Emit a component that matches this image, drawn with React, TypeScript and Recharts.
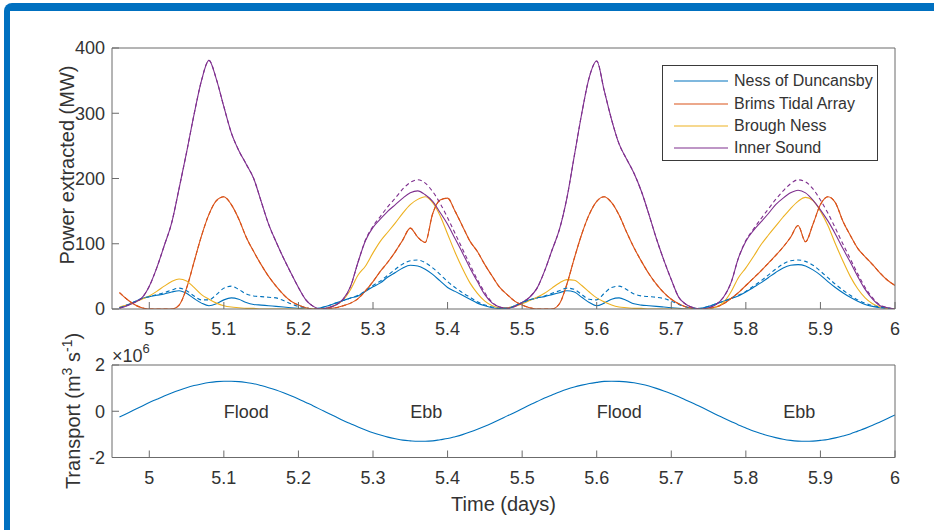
import React from "react";
import { LineChart, Line, XAxis, YAxis, Legend, ReferenceDot } from "recharts";

// sample grid: 4.96 .. 6.00 days, every 0.01
const times = Array.from({ length: 105 }, (_, i) => Math.round((4.96 + i * 0.01) * 100) / 100);

// power extracted (MW)
const nessOfDuncansby = [
  2, 6, 11, 16, 19, 21, 23, 26, 28, 24,
  16, 9, 5, 8, 14, 17, 15, 10, 7, 6,
  5, 4, 3, 2, 1, 0, 0, 2, 5, 9,
  13, 17, 20, 27, 34, 40, 49, 56, 63, 67,
  66, 61, 53, 43, 33, 27, 21, 15, 9, 5,
  2, 1, 1, 5, 10, 14, 17, 19, 22, 25,
  28, 26, 18, 10, 5, 9, 15, 17, 13, 8,
  6, 5, 4, 3, 2, 1, 0, 0, 1, 4,
  8, 12, 16, 20, 26, 33, 40, 48, 56, 63,
  67, 68, 66, 60, 52, 42, 33, 25, 18, 12,
  7, 4, 2, 1, 0,
];
const nessOfDuncansbyAlt = [
  2, 6, 11, 16, 19, 22, 25, 29, 32, 28,
  20, 14, 14, 22, 32, 35, 30, 23, 20, 19,
  18, 17, 13, 8, 4, 2, 0, 2, 5, 9,
  13, 17, 21, 28, 36, 43, 52, 61, 69, 74,
  75, 71, 63, 53, 42, 33, 25, 18, 11, 6,
  3, 1, 1, 5, 10, 14, 17, 20, 24, 28,
  32, 30, 22, 15, 14, 24, 33, 35, 30, 23,
  20, 19, 18, 16, 12, 7, 3, 1, 1, 4,
  8, 12, 16, 21, 27, 35, 43, 52, 61, 69,
  74, 75, 73, 67, 58, 48, 38, 29, 21, 14,
  9, 5, 3, 1, 0,
];
const brimsTidalArray = [
  25, 15, 7, 2, 0, 0, 0, 0, 6, 32,
  72, 112, 145, 166, 172, 160, 138, 110, 88, 68,
  50, 35, 22, 12, 6, 2, 0, 0, 1, 2,
  5, 9, 16, 28, 42, 58, 72, 88, 106, 124,
  110, 102, 146, 167, 170, 150, 127, 104, 88, 68,
  50, 33, 22, 12, 6, 2, 0, 0, 0, 8,
  38, 78, 115, 145, 165, 172, 163, 144, 118, 94,
  73, 54, 38, 25, 15, 8, 3, 1, 0, 1,
  3, 8, 16, 25, 36, 47, 58, 70, 82, 95,
  110, 128, 103, 130, 160, 172, 163, 135, 113, 93,
  80, 68, 55, 44, 36,
];
const broughNess = [
  3, 6, 10, 15, 20, 27, 35, 42, 46, 43,
  33, 22, 15, 9, 5, 3, 2, 1, 1, 0,
  0, 0, 0, 0, 0, 0, 0, 0, 2, 6,
  14, 30, 52, 66, 86, 104, 118, 132, 147, 160,
  168, 172, 163, 143, 115, 87, 62, 40, 24, 12,
  5, 2, 2, 4, 8, 13, 18, 24, 32, 40,
  45, 44, 36, 26, 17, 11, 6, 3, 2, 1,
  1, 0, 0, 0, 0, 0, 0, 0, 0, 1,
  3, 10, 26, 48, 63, 80, 98, 113, 127, 141,
  154, 165, 171, 166, 150, 128, 100, 74, 50, 31,
  17, 8, 3, 1, 0,
];
const innerSound = [
  1, 5, 10, 17, 35, 63, 97, 132, 185, 240,
  298, 350, 381, 352, 310, 270, 243, 222, 200, 165,
  130, 103, 78, 55, 33, 14, 4, 0, 2, 6,
  15, 35, 72, 105, 125, 138, 150, 160, 170, 178,
  181, 175, 165, 148, 130, 108, 86, 63, 42, 22,
  9, 3, 1, 4, 10, 18, 32, 58, 90, 122,
  170, 235, 300, 355, 380, 335, 290, 253, 230, 208,
  180, 145, 108, 75, 45, 18, 7, 2, 0, 2,
  7, 18, 40, 78, 104, 120, 133, 146, 160, 170,
  178, 182, 178, 167, 152, 135, 115, 93, 72, 50,
  30, 15, 5, 2, 0,
];
const innerSoundAlt = [
  1, 5, 10, 17, 35, 63, 97, 132, 185, 240,
  298, 350, 381, 352, 310, 270, 243, 222, 200, 165,
  130, 103, 78, 55, 33, 14, 4, 0, 2, 6,
  15, 35, 72, 106, 127, 142, 157, 170, 184, 194,
  198, 193, 180, 162, 140, 116, 92, 68, 45, 25,
  10, 3, 1, 4, 10, 18, 32, 58, 90, 122,
  170, 235, 300, 355, 380, 335, 290, 253, 230, 208,
  180, 145, 108, 75, 45, 18, 7, 2, 0, 2,
  7, 18, 40, 78, 105, 122, 138, 153, 168, 181,
  192, 198, 195, 184, 167, 147, 124, 100, 77, 54,
  33, 17, 6, 2, 0,
];

// transport (x10^6 m^3 s^-1)
const transport = [
  -0.25, -0.1, 0.06, 0.22, 0.38, 0.52, 0.66, 0.79, 0.91, 1.02,
  1.11, 1.18, 1.24, 1.28, 1.3, 1.3, 1.28, 1.24, 1.19, 1.11,
  1.02, 0.92, 0.8, 0.67, 0.53, 0.38, 0.23, 0.07, -0.09, -0.24,
  -0.4, -0.54, -0.68, -0.81, -0.93, -1.03, -1.12, -1.19, -1.25, -1.28,
  -1.3, -1.3, -1.28, -1.23, -1.18, -1.1, -1.01, -0.9, -0.78, -0.65,
  -0.51, -0.36, -0.2, -0.05, 0.11, 0.27, 0.42, 0.57, 0.7, 0.83,
  0.95, 1.05, 1.13, 1.2, 1.25, 1.29, 1.3, 1.29, 1.27, 1.23,
  1.17, 1.09, 0.99, 0.88, 0.76, 0.63, 0.48, 0.33, 0.18, 0.02,
  -0.14, -0.29, -0.44, -0.59, -0.72, -0.85, -0.96, -1.06, -1.14, -1.21,
  -1.26, -1.29, -1.3, -1.29, -1.26, -1.22, -1.15, -1.07, -0.98, -0.86,
  -0.74, -0.61, -0.46, -0.31, -0.16,
];

const timeTicks = [5, 5.1, 5.2, 5.3, 5.4, 5.5, 5.6, 5.7, 5.8, 5.9, 6];
const powerTicks = [0, 100, 200, 300, 400];
const transportTicks = [-2, 0, 2];
const phaseLabels = [
  { t: 5.1, text: "Flood" },
  { t: 5.35, text: "Ebb" },
  { t: 5.6, text: "Flood" },
  { t: 5.85, text: "Ebb" },
];

const powerData = times.map((t, i) => ({
  t,
  ness: nessOfDuncansby[i],
  nessAlt: nessOfDuncansbyAlt[i],
  brims: brimsTidalArray[i],
  brough: broughNess[i],
  inner: innerSound[i],
  innerAlt: innerSoundAlt[i],
}));
const transportData = times.map((t, i) => ({ t, q: transport[i] }));

const FONT = '"Liberation Sans", Arial, Helvetica, sans-serif';
const AXIS = "#6b6b6b";
const TEXT = "#333333";
const C_BLUE = "#0072BD";
const C_ORANGE = "#D95319";
const C_YELLOW = "#EDB120";
const C_PURPLE = "#7E2F8E";
const LW = 1.1;

const legendItems = [
  { name: "Ness of Duncansby", color: C_BLUE },
  { name: "Brims Tidal Array", color: C_ORANGE },
  { name: "Brough Ness", color: C_YELLOW },
  { name: "Inner Sound", color: C_PURPLE },
];

const tickStyle = { fill: TEXT, fontSize: 18, fontFamily: FONT };

function PowerLegend() {
  return (
    <div
      style={{
        width: 216,
        height: 96,
        boxSizing: "border-box",
        border: "1px solid #3a3a3a",
        background: "#fff",
        padding: "4px 0 0 11px",
        fontFamily: FONT,
      }}
    >
      {legendItems.map((item) => (
        <div key={item.name} style={{ display: "flex", alignItems: "center", height: 22.4 }}>
          <svg width={54} height={10}>
            <line x1={0} y1={5} x2={54} y2={5} stroke={item.color} strokeWidth={LW} />
          </svg>
          <span style={{ marginLeft: 6, fontSize: 16, color: TEXT, whiteSpace: "nowrap" }}>{item.name}</span>
        </div>
      ))}
    </div>
  );
}

export default function App() {
  const line = (key: string, color: string, dashed = false) => (
    <Line
      key={key + (dashed ? "-d" : "")}
      xAxisId="b"
      yAxisId="l"
      type="monotone"
      dataKey={key}
      stroke={color}
      strokeWidth={LW}
      strokeDasharray={dashed ? "4 3" : undefined}
      dot={false}
      legendType="none"
      isAnimationActive={false}
    />
  );

  return (
    <div style={{ position: "absolute", left: 0, top: 0, width: 934, height: 530, background: "#fff", overflow: "hidden" }}>
      <div
        style={{
          position: "absolute",
          left: 4,
          top: 3,
          width: 940,
          height: 540,
          borderTop: "8px solid #0070C0",
          borderLeft: "6px solid #0070C0",
          borderTopLeftRadius: 8,
        }}
      />

      <div style={{ position: "absolute", left: 0, top: 0 }}>
        <LineChart width={934} height={340} data={powerData} margin={{ top: 47, right: 38, bottom: 6, left: 52 }}>
          <XAxis
            xAxisId="b"
            dataKey="t"
            type="number"
            domain={[4.95, 6]}
            ticks={timeTicks}
            interval={0}
            allowDataOverflow
            height={25}
            stroke={AXIS}
            tickSize={-7}
            tickMargin={20}
            tick={tickStyle}
          />
          <XAxis
            xAxisId="t"
            orientation="top"
            dataKey="t"
            type="number"
            domain={[4.95, 6]}
            ticks={timeTicks}
            interval={0}
            allowDataOverflow
            height={1}
            stroke={AXIS}
            tickSize={-7}
            tick={false}
          />
          <YAxis
            yAxisId="l"
            type="number"
            domain={[0, 400]}
            ticks={powerTicks}
            interval={0}
            allowDataOverflow
            width={60}
            stroke={AXIS}
            tickSize={-7}
            tickMargin={14}
            tick={tickStyle}
          />
          <YAxis
            yAxisId="r"
            orientation="right"
            type="number"
            domain={[0, 400]}
            ticks={powerTicks}
            interval={0}
            allowDataOverflow
            width={1}
            stroke={AXIS}
            tickSize={-7}
            tick={false}
          />
          {line("ness", C_BLUE)}
          {line("brims", C_ORANGE)}
          {line("brough", C_YELLOW)}
          {line("inner", C_PURPLE)}
          {line("nessAlt", C_BLUE, true)}
          {line("brims", C_ORANGE, true)}
          {line("innerAlt", C_PURPLE, true)}
          <Legend
            layout="vertical"
            align="center"
            verticalAlign="middle"
            wrapperStyle={{ left: 662, top: 65, width: 216, height: 96 }}
            content={<PowerLegend />}
          />
        </LineChart>
      </div>

      <div style={{ position: "absolute", left: 0, top: 330 }}>
        <LineChart width={934} height={200} data={transportData} margin={{ top: 34, right: 38, bottom: 47.5, left: 52 }}>
          <XAxis
            xAxisId="b"
            dataKey="t"
            type="number"
            domain={[4.95, 6]}
            ticks={timeTicks}
            interval={0}
            allowDataOverflow
            height={25}
            stroke={AXIS}
            tickSize={-7}
            tickMargin={21}
            tick={tickStyle}
          />
          <XAxis
            xAxisId="t"
            orientation="top"
            dataKey="t"
            type="number"
            domain={[4.95, 6]}
            ticks={timeTicks}
            interval={0}
            allowDataOverflow
            height={1}
            stroke={AXIS}
            tickSize={-7}
            tick={false}
          />
          <YAxis
            yAxisId="l"
            type="number"
            domain={[-2, 2]}
            ticks={transportTicks}
            interval={0}
            allowDataOverflow
            width={60}
            stroke={AXIS}
            tickSize={-7}
            tickMargin={14}
            tick={tickStyle}
          />
          <YAxis
            yAxisId="r"
            orientation="right"
            type="number"
            domain={[-2, 2]}
            ticks={transportTicks}
            interval={0}
            allowDataOverflow
            width={1}
            stroke={AXIS}
            tickSize={-7}
            tick={false}
          />
          <Line
            xAxisId="b"
            yAxisId="l"
            type="monotone"
            dataKey="q"
            stroke={C_BLUE}
            strokeWidth={LW}
            dot={false}
            isAnimationActive={false}
          />
          {phaseLabels.map((p) => (
            <ReferenceDot
              key={p.t}
              xAxisId="b"
              yAxisId="l"
              x={p.t}
              y={0}
              r={0}
              fill="none"
              stroke="none"
              label={{ value: p.text, position: "right", offset: 0, fill: TEXT, fontSize: 18, fontFamily: FONT }}
            />
          ))}
        </LineChart>
      </div>

      <svg width={934} height={530} style={{ position: "absolute", left: 0, top: 0, pointerEvents: "none" }}>
        <g fontFamily={FONT} fill={TEXT}>
          <text transform="translate(74,165) rotate(-90)" textAnchor="middle" fontSize={20}>
            Power extracted (MW)
          </text>
          <text transform="translate(80,411) rotate(-90)" textAnchor="middle" fontSize={20}>
            Transport (m
            <tspan dy={-8} fontSize={14}>3</tspan>
            <tspan dy={8}> s</tspan>
            <tspan dy={-8} fontSize={14}>-1</tspan>
            <tspan dy={8}>)</tspan>
          </text>
          <text x={112} y={362} fontSize={18}>
            ×10
            <tspan dy={-9} fontSize={13}>6</tspan>
          </text>
          <text x={503.5} y={511} textAnchor="middle" fontSize={20}>
            Time (days)
          </text>
        </g>
      </svg>
    </div>
  );
}
